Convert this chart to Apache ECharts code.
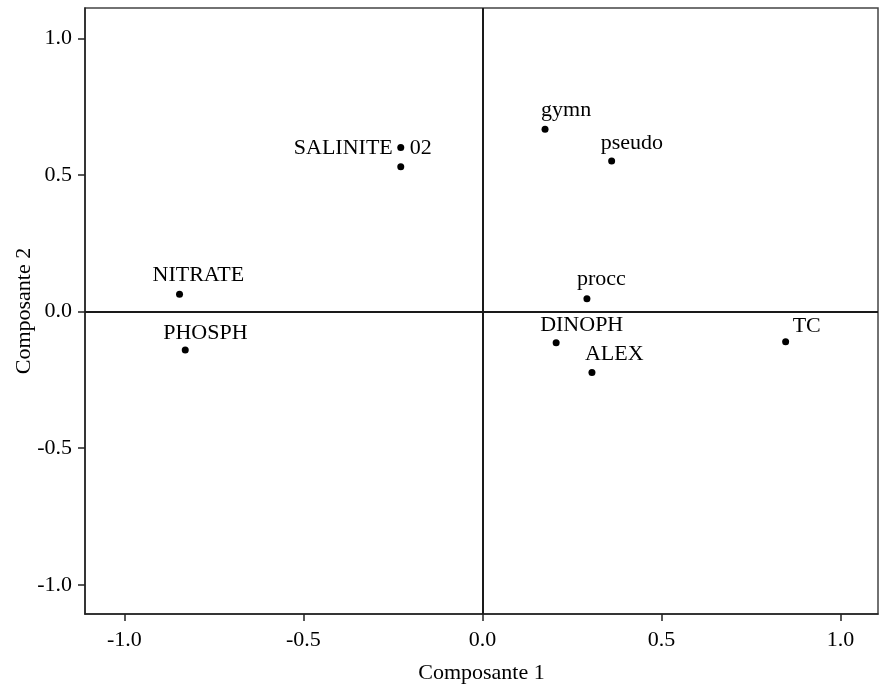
<!DOCTYPE html>
<html>
<head>
<meta charset="utf-8">
<script src="https://cdn.jsdelivr.net/npm/echarts@6/dist/echarts.min.js"></script>
<style>
  html, body { margin: 0; padding: 0; background: #fff; }
  #pca { width: 879px; height: 689px; }
</style>
</head>
<body>
<div id="pca"></div>
<script>
// variables projetées sur les composantes 1 et 2
var varNames = ['gymn', 'pseudo', 'SALINITE', '02', 'NITRATE', 'PHOSPH', 'procc', 'DINOPH', 'ALEX', 'TC'];
var comp1 = [0.175, 0.361, -0.228, -0.228, -0.846, -0.830, 0.292, 0.206, 0.306, 0.847];
var comp2 = [0.668, 0.552, 0.601, 0.531, 0.064, -0.140, 0.047, -0.114, -0.223, -0.110];
var tickValues = [-1.0, -0.5, 0.0, 0.5, 1.0];

// position des étiquettes (décalage en px par rapport au point)
var labelOffsets = {
    gymn: [-4, -19, 'left'],
    pseudo: [-11, -18, 'left'],
    SALINITE: [-8, 1, 'right'],
    '02': [9, -18, 'left'],
    NITRATE: [-27, -19, 'left'],
    PHOSPH: [-22, -17, 'left'],
    procc: [-10, -20, 'left'],
    DINOPH: [-16, -18, 'left'],
    ALEX: [-7, -18, 'left'],
    TC: [7, -16, 'left']
};

function render(divId) {
    var myChart = echarts.init(document.getElementById(divId));
    var font = 'Liberation Serif';
    var ink = '#000';

    var points = varNames.map(function (name, i) {
        var off = labelOffsets[name];
        return {
            name: name,
            value: [comp1[i], comp2[i]],
            label: {
                align: off[2],
                offset: [off[0], off[1]]
            }
        };
    });

    function axisCommon(name) {
        return {
            type: 'value',
            name: name,
            nameLocation: 'middle',
            nameMoveOverlap: false,
            nameTextStyle: {fontFamily: font, fontSize: 22, color: ink},
            splitLine: {show: false},
            axisLine: {show: true, onZero: false, lineStyle: {color: '#222', width: 1.5}},
            axisTick: {
                show: true, length: 7, inside: false,
                customValues: tickValues,
                lineStyle: {color: '#222', width: 1.5}
            },
            axisLabel: {
                customValues: tickValues,
                margin: 13,
                fontFamily: font, fontSize: 22, color: ink,
                formatter: function (v) { return v.toFixed(1); }
            }
        };
    }

    var xAxis = axisCommon('Composante 1');
    xAxis.min = -1.11;
    xAxis.max = 1.105;
    xAxis.nameGap = 48;
    xAxis.axisLabel.margin = 15;

    var yAxis = axisCommon('Composante 2');
    yAxis.min = -1.107;
    yAxis.max = 1.112;
    yAxis.nameGap = 50;

    var option = {
        backgroundColor: '#fff',
        animation: false,
        grid: {
            left: 85,
            right: 1,
            top: 8,
            bottom: 75,
            outerBoundsMode: 'none',
            show: true,
            borderColor: '#444',
            borderWidth: 1.5
        },
        xAxis: xAxis,
        yAxis: yAxis,
        series: [
            {
                type: 'scatter',
                symbol: 'circle',
                symbolSize: 7,
                itemStyle: {color: ink, opacity: 1},
                label: {
                    show: true,
                    position: 'inside',
                    verticalAlign: 'middle',
                    fontFamily: font,
                    fontSize: 22,
                    color: ink,
                    formatter: '{b}'
                },
                data: points,
                markLine: {
                    silent: true,
                    symbol: 'none',
                    label: {show: false},
                    lineStyle: {type: 'solid', color: '#1a1a1a', width: 2},
                    data: [{xAxis: 0}, {yAxis: 0}]
                }
            }
        ]
    };
    myChart.setOption(option);
}

render('pca');
</script>
</body>
</html>
